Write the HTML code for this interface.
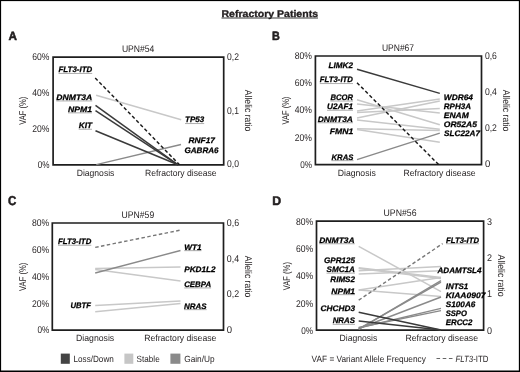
<!DOCTYPE html>
<html><head><meta charset="utf-8"><style>
html,body{margin:0;padding:0;background:#fff;}
svg{display:block;font-family:"Liberation Sans",sans-serif;will-change:transform;text-rendering:geometricPrecision;}
</style></head><body>
<svg width="520" height="372" viewBox="0 0 520 372">
<rect x="0" y="0" width="520" height="372" fill="#fff"/>
<rect x="0" y="0" width="520" height="1.1" fill="#000"/><rect x="0" y="0" width="1.1" height="372" fill="#000"/><rect x="518.85" y="0" width="1.15" height="372" fill="#000"/><rect x="0" y="370.5" width="520" height="1.5" fill="#000"/>
<text x="221.5" y="16.5" font-size="9.7" font-weight="bold" textLength="96.5" lengthAdjust="spacingAndGlyphs" fill="#231f20" stroke="#231f20" stroke-width="0.35">Refractory Patients</text>
<line x1="221.5" y1="18.0" x2="318.0" y2="18.0" stroke="#222" stroke-width="0.9"/>
<text x="8.45" y="39.55" font-size="11.85" font-weight="bold" textLength="8.5" lengthAdjust="spacingAndGlyphs" fill="#231f20" stroke="#231f20" stroke-width="0.55" stroke-linejoin="round">A</text>
<text x="272.05" y="39.75" font-size="12.15" font-weight="bold" textLength="7.8" lengthAdjust="spacingAndGlyphs" fill="#231f20" stroke="#231f20" stroke-width="0.55" stroke-linejoin="round">B</text>
<text x="8.05" y="205.35" font-size="12.87" font-weight="bold" textLength="8.3" lengthAdjust="spacingAndGlyphs" fill="#231f20" stroke="#231f20" stroke-width="0.55" stroke-linejoin="round">C</text>
<text x="272.15" y="205.15" font-size="12.44" font-weight="bold" textLength="8.9" lengthAdjust="spacingAndGlyphs" fill="#231f20" stroke="#231f20" stroke-width="0.55" stroke-linejoin="round">D</text>
<path d="M53.1 57.2H223.7V164.8H53.1Z" fill="none" stroke="#1e1e1e" stroke-width="1.7"/>
<text x="121.9" y="51.7" font-size="9.6" textLength="32.5" lengthAdjust="spacingAndGlyphs" fill="#231f20">UPN#54</text>
<text x="32.3" y="59.7" font-size="9.8" textLength="17.2" lengthAdjust="spacingAndGlyphs" fill="#231f20">60%</text>
<text x="32.3" y="96.2" font-size="9.8" textLength="17.2" lengthAdjust="spacingAndGlyphs" fill="#231f20">40%</text>
<text x="32.3" y="132.1" font-size="9.8" textLength="17.2" lengthAdjust="spacingAndGlyphs" fill="#231f20">20%</text>
<text x="37.7" y="167.9" font-size="9.8" textLength="11.8" lengthAdjust="spacingAndGlyphs" fill="#231f20">0%</text>
<text x="227.0" y="59.9" font-size="9.8" textLength="11.9" lengthAdjust="spacingAndGlyphs" fill="#231f20">0,2</text>
<text x="227.0" y="114.0" font-size="9.8" textLength="11.9" lengthAdjust="spacingAndGlyphs" fill="#231f20">0,1</text>
<text x="227.0" y="167.3" font-size="9.8" textLength="11.9" lengthAdjust="spacingAndGlyphs" fill="#231f20">0,0</text>
<text transform="translate(23.0 110.7) rotate(-90)" x="-14.0" y="3.43" font-size="9.8" textLength="28.0" lengthAdjust="spacingAndGlyphs" fill="#231f20">VAF (%)</text>
<text transform="translate(248.7 110.6) rotate(90)" x="-20.8" y="3.43" font-size="9.8" textLength="41.6" lengthAdjust="spacingAndGlyphs" fill="#231f20">Allelic ratio</text>
<text x="76.7" y="175.5" font-size="9.0" textLength="37.7" lengthAdjust="spacingAndGlyphs" fill="#231f20">Diagnosis</text>
<text x="145.0" y="175.5" font-size="9.0" textLength="71.6" lengthAdjust="spacingAndGlyphs" fill="#231f20">Refractory disease</text>
<line x1="96.1" y1="95.3" x2="181.2" y2="119.7" stroke="#c8c8c8" stroke-width="1.5"/>
<line x1="96.3" y1="164.6" x2="181" y2="144.5" stroke="#8a8a8a" stroke-width="1.4"/>
<line x1="95.5" y1="105.3" x2="178" y2="164.8" stroke="#3a3a3a" stroke-width="1.5"/>
<line x1="95.5" y1="110.6" x2="178" y2="164.8" stroke="#3a3a3a" stroke-width="1.5"/>
<line x1="95.5" y1="130.8" x2="178" y2="164.8" stroke="#3a3a3a" stroke-width="1.5"/>
<line x1="95.2" y1="77.9" x2="179.5" y2="164.8" stroke="#1a1a1a" stroke-width="1.45" stroke-dasharray="3.5 2.4"/>
<text x="58.5" y="72.3" font-size="7.95" font-weight="bold" font-style="italic" textLength="33.7" lengthAdjust="spacingAndGlyphs" fill="#000" stroke="#000" stroke-width="0.25">FLT3-ITD</text>
<line x1="58.5" y1="73.45" x2="92.2" y2="73.45" stroke="#999" stroke-width="0.8"/>
<text x="56.3" y="99.8" font-size="7.95" font-weight="bold" font-style="italic" textLength="36.0" lengthAdjust="spacingAndGlyphs" fill="#000" stroke="#000" stroke-width="0.25">DNMT3A</text>
<line x1="56.3" y1="100.95" x2="92.3" y2="100.95" stroke="#999" stroke-width="0.8"/>
<text x="68.0" y="111.7" font-size="7.95" font-weight="bold" font-style="italic" textLength="24.0" lengthAdjust="spacingAndGlyphs" fill="#000" stroke="#000" stroke-width="0.25">NPM1</text>
<line x1="68.0" y1="112.85000000000001" x2="92.0" y2="112.85000000000001" stroke="#999" stroke-width="0.8"/>
<text x="78.7" y="128.1" font-size="7.95" font-weight="bold" font-style="italic" textLength="13.3" lengthAdjust="spacingAndGlyphs" fill="#000" stroke="#000" stroke-width="0.25">KIT</text>
<line x1="78.7" y1="129.25" x2="92.0" y2="129.25" stroke="#999" stroke-width="0.8"/>
<text x="185.0" y="122.4" font-size="7.95" font-weight="bold" font-style="italic" textLength="19.2" lengthAdjust="spacingAndGlyphs" fill="#000" stroke="#000" stroke-width="0.25">TP53</text>
<line x1="185.0" y1="123.55000000000001" x2="204.2" y2="123.55000000000001" stroke="#999" stroke-width="0.8"/>
<text x="188.5" y="142.8" font-size="7.95" font-weight="bold" font-style="italic" textLength="26.5" lengthAdjust="spacingAndGlyphs" fill="#000" stroke="#000" stroke-width="0.25">RNF17</text>
<text x="184.5" y="152.5" font-size="7.95" font-weight="bold" font-style="italic" textLength="34.0" lengthAdjust="spacingAndGlyphs" fill="#000" stroke="#000" stroke-width="0.25">GABRA6</text>
<path d="M315.4 56.0H481.5V164.7H315.4Z" fill="none" stroke="#1e1e1e" stroke-width="1.7"/>
<text x="381.9" y="50.5" font-size="9.6" textLength="32.2" lengthAdjust="spacingAndGlyphs" fill="#231f20">UPN#67</text>
<text x="294.8" y="58.5" font-size="9.8" textLength="17.2" lengthAdjust="spacingAndGlyphs" fill="#231f20">80%</text>
<text x="294.8" y="86.0" font-size="9.8" textLength="17.2" lengthAdjust="spacingAndGlyphs" fill="#231f20">60%</text>
<text x="294.8" y="113.3" font-size="9.8" textLength="17.2" lengthAdjust="spacingAndGlyphs" fill="#231f20">40%</text>
<text x="294.8" y="140.7" font-size="9.8" textLength="17.2" lengthAdjust="spacingAndGlyphs" fill="#231f20">20%</text>
<text x="300.2" y="167.7" font-size="9.8" textLength="11.8" lengthAdjust="spacingAndGlyphs" fill="#231f20">0%</text>
<text x="484.9" y="58.5" font-size="9.8" textLength="12.0" lengthAdjust="spacingAndGlyphs" fill="#231f20">0,6</text>
<text x="484.9" y="94.8" font-size="9.8" textLength="12.0" lengthAdjust="spacingAndGlyphs" fill="#231f20">0,4</text>
<text x="484.9" y="130.8" font-size="9.8" textLength="12.0" lengthAdjust="spacingAndGlyphs" fill="#231f20">0,2</text>
<text x="484.9" y="167.1" font-size="9.8" textLength="5.3" lengthAdjust="spacingAndGlyphs" fill="#231f20">0</text>
<text transform="translate(285.9 110.6) rotate(-90)" x="-14.0" y="3.43" font-size="9.8" textLength="28.0" lengthAdjust="spacingAndGlyphs" fill="#231f20">VAF (%)</text>
<text transform="translate(506.2 110.5) rotate(90)" x="-20.8" y="3.43" font-size="9.8" textLength="41.6" lengthAdjust="spacingAndGlyphs" fill="#231f20">Allelic ratio</text>
<text x="337.7" y="175.8" font-size="9.0" textLength="38.1" lengthAdjust="spacingAndGlyphs" fill="#231f20">Diagnosis</text>
<text x="403.5" y="175.8" font-size="9.0" textLength="72.1" lengthAdjust="spacingAndGlyphs" fill="#231f20">Refractory disease</text>
<line x1="357.0" y1="99.8" x2="439.8" y2="124.8" stroke="#c8c8c8" stroke-width="1.5"/>
<line x1="357.0" y1="104.1" x2="439.8" y2="113.1" stroke="#c8c8c8" stroke-width="1.5"/>
<line x1="357.0" y1="111.1" x2="439.8" y2="99.0" stroke="#c8c8c8" stroke-width="1.5"/>
<line x1="357.0" y1="112.4" x2="439.8" y2="108.6" stroke="#c8c8c8" stroke-width="1.5"/>
<line x1="357.0" y1="118.1" x2="439.8" y2="101.0" stroke="#c8c8c8" stroke-width="1.5"/>
<line x1="357.0" y1="119.9" x2="439.8" y2="129.3" stroke="#c8c8c8" stroke-width="1.5"/>
<line x1="357.0" y1="128.8" x2="439.8" y2="130.6" stroke="#c8c8c8" stroke-width="1.5"/>
<line x1="357.0" y1="129.6" x2="439.8" y2="142.2" stroke="#c8c8c8" stroke-width="1.5"/>
<line x1="357.0" y1="159.7" x2="439.8" y2="133.2" stroke="#8a8a8a" stroke-width="1.4"/>
<line x1="357.0" y1="69.2" x2="439.8" y2="93.4" stroke="#3a3a3a" stroke-width="1.5"/>
<line x1="357.0" y1="82.7" x2="438.7" y2="164.7" stroke="#1a1a1a" stroke-width="1.45" stroke-dasharray="3.5 2.4"/>
<text x="328.5" y="67.9" font-size="7.95" font-weight="bold" font-style="italic" textLength="24.4" lengthAdjust="spacingAndGlyphs" fill="#000" stroke="#000" stroke-width="0.25">LIMK2</text>
<text x="319.8" y="82.4" font-size="7.95" font-weight="bold" font-style="italic" textLength="33.2" lengthAdjust="spacingAndGlyphs" fill="#000" stroke="#000" stroke-width="0.25">FLT3-ITD</text>
<line x1="319.8" y1="83.55000000000001" x2="353.0" y2="83.55000000000001" stroke="#999" stroke-width="0.8"/>
<text x="330.4" y="99.9" font-size="7.95" font-weight="bold" font-style="italic" textLength="22.6" lengthAdjust="spacingAndGlyphs" fill="#000" stroke="#000" stroke-width="0.25">BCOR</text>
<line x1="330.4" y1="101.05000000000001" x2="353.0" y2="101.05000000000001" stroke="#999" stroke-width="0.8"/>
<text x="327.0" y="109.1" font-size="7.95" font-weight="bold" font-style="italic" textLength="26.0" lengthAdjust="spacingAndGlyphs" fill="#000" stroke="#000" stroke-width="0.25">U2AF1</text>
<line x1="327.0" y1="110.25" x2="353.0" y2="110.25" stroke="#999" stroke-width="0.8"/>
<text x="317.7" y="121.6" font-size="7.95" font-weight="bold" font-style="italic" textLength="35.3" lengthAdjust="spacingAndGlyphs" fill="#000" stroke="#000" stroke-width="0.25">DNMT3A</text>
<line x1="317.7" y1="122.75" x2="353.0" y2="122.75" stroke="#999" stroke-width="0.8"/>
<text x="329.7" y="134.3" font-size="7.95" font-weight="bold" font-style="italic" textLength="23.5" lengthAdjust="spacingAndGlyphs" fill="#000" stroke="#000" stroke-width="0.25">FMN1</text>
<text x="331.5" y="159.5" font-size="7.95" font-weight="bold" font-style="italic" textLength="22.0" lengthAdjust="spacingAndGlyphs" fill="#000" stroke="#000" stroke-width="0.25">KRAS</text>
<line x1="331.5" y1="160.65" x2="353.5" y2="160.65" stroke="#999" stroke-width="0.8"/>
<text x="443.8" y="99.7" font-size="7.95" font-weight="bold" font-style="italic" textLength="29.2" lengthAdjust="spacingAndGlyphs" fill="#000" stroke="#000" stroke-width="0.25">WDR64</text>
<text x="443.8" y="108.8" font-size="7.95" font-weight="bold" font-style="italic" textLength="27.2" lengthAdjust="spacingAndGlyphs" fill="#000" stroke="#000" stroke-width="0.25">RPH3A</text>
<text x="443.8" y="117.5" font-size="7.95" font-weight="bold" font-style="italic" textLength="25.0" lengthAdjust="spacingAndGlyphs" fill="#000" stroke="#000" stroke-width="0.25">ENAM</text>
<text x="443.8" y="127.4" font-size="7.95" font-weight="bold" font-style="italic" textLength="33.2" lengthAdjust="spacingAndGlyphs" fill="#000" stroke="#000" stroke-width="0.25">OR52A5</text>
<text x="444.1" y="135.8" font-size="7.95" font-weight="bold" font-style="italic" textLength="35.9" lengthAdjust="spacingAndGlyphs" fill="#000" stroke="#000" stroke-width="0.25">SLC22A7</text>
<path d="M52.3 223.0H223.5V330.2H52.3Z" fill="none" stroke="#1e1e1e" stroke-width="1.7"/>
<text x="121.6" y="217.5" font-size="9.6" textLength="32.6" lengthAdjust="spacingAndGlyphs" fill="#231f20">UPN#59</text>
<text x="32.0" y="226.3" font-size="9.8" textLength="17.2" lengthAdjust="spacingAndGlyphs" fill="#231f20">80%</text>
<text x="32.0" y="252.9" font-size="9.8" textLength="17.2" lengthAdjust="spacingAndGlyphs" fill="#231f20">60%</text>
<text x="32.0" y="279.5" font-size="9.8" textLength="17.2" lengthAdjust="spacingAndGlyphs" fill="#231f20">40%</text>
<text x="32.0" y="306.6" font-size="9.8" textLength="17.2" lengthAdjust="spacingAndGlyphs" fill="#231f20">20%</text>
<text x="37.4" y="333.3" font-size="9.8" textLength="11.8" lengthAdjust="spacingAndGlyphs" fill="#231f20">0%</text>
<text x="226.8" y="226.3" font-size="9.8" textLength="12.3" lengthAdjust="spacingAndGlyphs" fill="#231f20">0,6</text>
<text x="226.8" y="261.7" font-size="9.8" textLength="12.3" lengthAdjust="spacingAndGlyphs" fill="#231f20">0,4</text>
<text x="226.8" y="297.1" font-size="9.8" textLength="12.3" lengthAdjust="spacingAndGlyphs" fill="#231f20">0,2</text>
<text x="226.8" y="333.1" font-size="9.8" textLength="5.3" lengthAdjust="spacingAndGlyphs" fill="#231f20">0</text>
<text transform="translate(22.8 276.8) rotate(-90)" x="-14.2" y="3.43" font-size="9.8" textLength="28.4" lengthAdjust="spacingAndGlyphs" fill="#231f20">VAF (%)</text>
<text transform="translate(248.4 276.5) rotate(90)" x="-20.7" y="3.43" font-size="9.8" textLength="41.4" lengthAdjust="spacingAndGlyphs" fill="#231f20">Allelic ratio</text>
<text x="76.0" y="340.8" font-size="9.0" textLength="38.2" lengthAdjust="spacingAndGlyphs" fill="#231f20">Diagnosis</text>
<text x="144.2" y="340.8" font-size="9.0" textLength="72.2" lengthAdjust="spacingAndGlyphs" fill="#231f20">Refractory disease</text>
<line x1="95.2" y1="268.4" x2="180.5" y2="267.1" stroke="#c8c8c8" stroke-width="1.5"/>
<line x1="95.2" y1="269.6" x2="180.5" y2="281.1" stroke="#c8c8c8" stroke-width="1.5"/>
<line x1="95.2" y1="305.4" x2="180.5" y2="301.0" stroke="#c8c8c8" stroke-width="1.5"/>
<line x1="95.2" y1="311.7" x2="180.5" y2="303.6" stroke="#c8c8c8" stroke-width="1.5"/>
<line x1="95.2" y1="273.0" x2="180.5" y2="250.5" stroke="#8a8a8a" stroke-width="1.4"/>
<line x1="95.2" y1="247.4" x2="180.5" y2="230.1" stroke="#777" stroke-width="1.4" stroke-dasharray="3.5 2.4"/>
<text x="58.0" y="244.1" font-size="7.95" font-weight="bold" font-style="italic" textLength="33.3" lengthAdjust="spacingAndGlyphs" fill="#000" stroke="#000" stroke-width="0.25">FLT3-ITD</text>
<line x1="58.0" y1="245.25" x2="91.3" y2="245.25" stroke="#999" stroke-width="0.8"/>
<text x="70.5" y="308.2" font-size="7.95" font-weight="bold" font-style="italic" textLength="20.5" lengthAdjust="spacingAndGlyphs" fill="#000" stroke="#000" stroke-width="0.25">UBTF</text>
<text x="184.2" y="249.5" font-size="7.95" font-weight="bold" font-style="italic" textLength="17.3" lengthAdjust="spacingAndGlyphs" fill="#000" stroke="#000" stroke-width="0.25">WT1</text>
<line x1="184.2" y1="250.65" x2="201.5" y2="250.65" stroke="#999" stroke-width="0.8"/>
<text x="184.2" y="271.9" font-size="7.95" font-weight="bold" font-style="italic" textLength="31.5" lengthAdjust="spacingAndGlyphs" fill="#000" stroke="#000" stroke-width="0.25">PKD1L2</text>
<text x="184.2" y="286.8" font-size="7.95" font-weight="bold" font-style="italic" textLength="26.9" lengthAdjust="spacingAndGlyphs" fill="#000" stroke="#000" stroke-width="0.25">CEBPA</text>
<line x1="184.2" y1="287.95" x2="211.1" y2="287.95" stroke="#999" stroke-width="0.8"/>
<text x="184.1" y="308.5" font-size="7.95" font-weight="bold" font-style="italic" textLength="22.6" lengthAdjust="spacingAndGlyphs" fill="#000" stroke="#000" stroke-width="0.25">NRAS</text>
<line x1="184.1" y1="309.65" x2="206.7" y2="309.65" stroke="#999" stroke-width="0.8"/>
<path d="M316.5 221.2H483.6V330.1H316.5Z" fill="none" stroke="#1e1e1e" stroke-width="1.7"/>
<text x="383.5" y="215.7" font-size="9.6" textLength="33.0" lengthAdjust="spacingAndGlyphs" fill="#231f20">UPN#56</text>
<text x="295.9" y="225.2" font-size="9.8" textLength="17.2" lengthAdjust="spacingAndGlyphs" fill="#231f20">80%</text>
<text x="295.9" y="252.1" font-size="9.8" textLength="17.2" lengthAdjust="spacingAndGlyphs" fill="#231f20">60%</text>
<text x="295.9" y="279.4" font-size="9.8" textLength="17.2" lengthAdjust="spacingAndGlyphs" fill="#231f20">40%</text>
<text x="295.9" y="306.7" font-size="9.8" textLength="17.2" lengthAdjust="spacingAndGlyphs" fill="#231f20">20%</text>
<text x="301.3" y="333.8" font-size="9.8" textLength="11.8" lengthAdjust="spacingAndGlyphs" fill="#231f20">0%</text>
<text x="487.0" y="225.2" font-size="9.8" textLength="5.0" lengthAdjust="spacingAndGlyphs" fill="#231f20">3</text>
<text x="487.0" y="261.0" font-size="9.8" textLength="5.0" lengthAdjust="spacingAndGlyphs" fill="#231f20">2</text>
<text x="487.0" y="297.4" font-size="9.8" textLength="5.0" lengthAdjust="spacingAndGlyphs" fill="#231f20">1</text>
<text x="487.0" y="333.7" font-size="9.8" textLength="5.0" lengthAdjust="spacingAndGlyphs" fill="#231f20">0</text>
<text transform="translate(287.0 276.2) rotate(-90)" x="-14.15" y="3.43" font-size="9.8" textLength="28.3" lengthAdjust="spacingAndGlyphs" fill="#231f20">VAF (%)</text>
<text transform="translate(501.6 275.6) rotate(90)" x="-21.0" y="3.43" font-size="9.8" textLength="42.0" lengthAdjust="spacingAndGlyphs" fill="#231f20">Allelic ratio</text>
<text x="339.5" y="340.8" font-size="9.0" textLength="37.8" lengthAdjust="spacingAndGlyphs" fill="#231f20">Diagnosis</text>
<text x="405.5" y="340.8" font-size="9.0" textLength="72.5" lengthAdjust="spacingAndGlyphs" fill="#231f20">Refractory disease</text>
<line x1="358.7" y1="246.3" x2="441.0" y2="291.7" stroke="#c8c8c8" stroke-width="1.5"/>
<line x1="358.7" y1="267.8" x2="441.0" y2="277.4" stroke="#c8c8c8" stroke-width="1.5"/>
<line x1="358.7" y1="270.8" x2="441.0" y2="266.5" stroke="#c8c8c8" stroke-width="1.5"/>
<line x1="358.7" y1="274.0" x2="441.0" y2="270.7" stroke="#c8c8c8" stroke-width="1.5"/>
<line x1="358.7" y1="290.0" x2="441.0" y2="277.6" stroke="#c8c8c8" stroke-width="1.5"/>
<line x1="358.7" y1="290.0" x2="441.0" y2="296.5" stroke="#c8c8c8" stroke-width="1.5"/>
<line x1="358.7" y1="268.5" x2="441.0" y2="278.5" stroke="#c8c8c8" stroke-width="1.5"/>
<line x1="358.7" y1="329.3" x2="441.0" y2="280.6" stroke="#8a8a8a" stroke-width="1.4"/>
<line x1="358.7" y1="328.8" x2="441.0" y2="282.2" stroke="#8a8a8a" stroke-width="1.4"/>
<line x1="358.7" y1="328.5" x2="441.0" y2="297.0" stroke="#8a8a8a" stroke-width="1.4"/>
<line x1="358.7" y1="328.0" x2="441.0" y2="308.4" stroke="#8a8a8a" stroke-width="1.3"/>
<line x1="358.7" y1="327.5" x2="441.0" y2="310.7" stroke="#8a8a8a" stroke-width="1.3"/>
<line x1="358.7" y1="312.2" x2="441.0" y2="330.0" stroke="#3a3a3a" stroke-width="1.5"/>
<line x1="358.7" y1="321.1" x2="441.0" y2="330.0" stroke="#3a3a3a" stroke-width="1.5"/>
<line x1="358.7" y1="300.2" x2="442.6" y2="243.6" stroke="#777" stroke-width="1.4" stroke-dasharray="3.5 2.4"/>
<text x="319.2" y="242.6" font-size="7.95" font-weight="bold" font-style="italic" textLength="35.6" lengthAdjust="spacingAndGlyphs" fill="#000" stroke="#000" stroke-width="0.25">DNMT3A</text>
<line x1="319.2" y1="243.75" x2="354.8" y2="243.75" stroke="#999" stroke-width="0.8"/>
<text x="324.0" y="263.2" font-size="7.95" font-weight="bold" font-style="italic" textLength="31.0" lengthAdjust="spacingAndGlyphs" fill="#000" stroke="#000" stroke-width="0.25">GPR125</text>
<text x="326.5" y="272.0" font-size="7.95" font-weight="bold" font-style="italic" textLength="28.5" lengthAdjust="spacingAndGlyphs" fill="#000" stroke="#000" stroke-width="0.25">SMC1A</text>
<line x1="326.5" y1="273.15" x2="355.0" y2="273.15" stroke="#999" stroke-width="0.8"/>
<text x="330.3" y="281.6" font-size="7.95" font-weight="bold" font-style="italic" textLength="24.7" lengthAdjust="spacingAndGlyphs" fill="#000" stroke="#000" stroke-width="0.25">RIMS2</text>
<text x="331.3" y="293.5" font-size="7.95" font-weight="bold" font-style="italic" textLength="23.7" lengthAdjust="spacingAndGlyphs" fill="#000" stroke="#000" stroke-width="0.25">NPM1</text>
<line x1="331.3" y1="294.65" x2="355.0" y2="294.65" stroke="#999" stroke-width="0.8"/>
<text x="320.6" y="311.1" font-size="7.95" font-weight="bold" font-style="italic" textLength="34.4" lengthAdjust="spacingAndGlyphs" fill="#000" stroke="#000" stroke-width="0.25">CHCHD3</text>
<text x="332.7" y="323.2" font-size="7.95" font-weight="bold" font-style="italic" textLength="22.3" lengthAdjust="spacingAndGlyphs" fill="#000" stroke="#000" stroke-width="0.25">NRAS</text>
<line x1="332.7" y1="324.34999999999997" x2="355.0" y2="324.34999999999997" stroke="#999" stroke-width="0.8"/>
<text x="446.1" y="242.6" font-size="7.95" font-weight="bold" font-style="italic" textLength="32.9" lengthAdjust="spacingAndGlyphs" fill="#000" stroke="#000" stroke-width="0.25">FLT3-ITD</text>
<line x1="446.1" y1="243.75" x2="479.0" y2="243.75" stroke="#999" stroke-width="0.8"/>
<text x="437.5" y="272.5" font-size="7.95" font-weight="bold" font-style="italic" textLength="44.0" lengthAdjust="spacingAndGlyphs" fill="#000" stroke="#000" stroke-width="0.25">ADAMTSL4</text>
<text x="445.7" y="288.8" font-size="7.95" font-weight="bold" font-style="italic" textLength="22.6" lengthAdjust="spacingAndGlyphs" fill="#000" stroke="#000" stroke-width="0.25">INTS1</text>
<text x="445.7" y="297.8" font-size="7.95" font-weight="bold" font-style="italic" textLength="39.8" lengthAdjust="spacingAndGlyphs" fill="#000" stroke="#000" stroke-width="0.25">KIAA0907</text>
<text x="445.7" y="307.4" font-size="7.95" font-weight="bold" font-style="italic" textLength="29.7" lengthAdjust="spacingAndGlyphs" fill="#000" stroke="#000" stroke-width="0.25">S100A6</text>
<text x="445.7" y="316.0" font-size="7.95" font-weight="bold" font-style="italic" textLength="21.2" lengthAdjust="spacingAndGlyphs" fill="#000" stroke="#000" stroke-width="0.25">SSPO</text>
<text x="445.7" y="325.3" font-size="7.95" font-weight="bold" font-style="italic" textLength="26.7" lengthAdjust="spacingAndGlyphs" fill="#000" stroke="#000" stroke-width="0.25">ERCC2</text>
<rect x="60.8" y="353.6" width="9.0" height="10.2" fill="#444"/>
<rect x="124.4" y="353.6" width="8.9" height="10.2" fill="#c6c6c6"/>
<rect x="170.4" y="353.6" width="10.0" height="10.2" fill="#8a8a8a"/>
<text x="73.5" y="361.8" font-size="9.0" textLength="40.3" lengthAdjust="spacingAndGlyphs" fill="#231f20">Loss/Down</text>
<text x="136.6" y="361.8" font-size="9.0" textLength="23.1" lengthAdjust="spacingAndGlyphs" fill="#231f20">Stable</text>
<text x="184.2" y="361.8" font-size="9.0" textLength="30.4" lengthAdjust="spacingAndGlyphs" fill="#231f20">Gain/Up</text>
<text x="311.6" y="361.6" font-size="9.0" textLength="114.2" lengthAdjust="spacingAndGlyphs" fill="#231f20">VAF = Variant Allele Frequency</text>
<line x1="436.5" y1="358.5" x2="452.6" y2="358.5" stroke="#666" stroke-width="1.0" stroke-dasharray="3.6 2.6"/>
<text x="455.4" y="361.6" font-size="9" fill="#231f20" textLength="33" lengthAdjust="spacingAndGlyphs"><tspan font-style="italic">FLT3</tspan>-ITD</text>
</svg>
</body></html>
